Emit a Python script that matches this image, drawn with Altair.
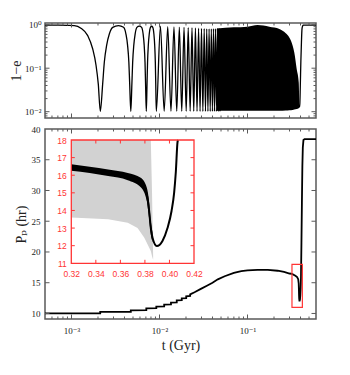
import altair as alt
import pandas as pd

# ---------------- data: top panel (1 - e) ----------------
early_t = [5e-4, 7e-4, 9e-4, 1.076e-3, 1.28e-3, 1.53e-3, 1.74e-3, 1.90e-3, 2.016e-3, 2.125e-3,
           2.26e-3, 2.36e-3, 2.51e-3, 2.69e-3, 2.94e-3, 3.42e-3, 3.905e-3, 4.155e-3, 4.335e-3, 4.485e-3,
           4.585e-3, 4.72e-3, 4.855e-3, 4.955e-3, 5.105e-3, 5.285e-3, 5.535e-3, 5.9e-3, 6.265e-3, 6.515e-3,
           6.695e-3, 6.845e-3, 6.945e-3, 7.08e-3, 7.215e-3, 7.315e-3, 7.465e-3, 7.645e-3, 7.895e-3, 8.14e-3,
           8.385e-3, 8.635e-3, 8.815e-3, 8.965e-3, 9.065e-3, 9.2e-3]
early_v = [0.98, 0.975, 0.965, 0.95, 0.83, 0.56, 0.28, 0.117, 0.043, 0.0102,
           0.043, 0.137, 0.34, 0.61, 0.87, 0.95, 0.87, 0.61, 0.34, 0.137,
           0.043, 0.0102, 0.043, 0.137, 0.34, 0.61, 0.87, 0.93, 0.87, 0.61,
           0.34, 0.137, 0.043, 0.0102, 0.043, 0.137, 0.34, 0.61, 0.87, 0.92,
           0.87, 0.61, 0.34, 0.137, 0.043, 0.0102]
peak_t = [0.01025, 0.0124, 0.0146, 0.0168, 0.019, 0.0212, 0.0234, 0.0256, 0.0278, 0.03,
          0.0322, 0.0344, 0.0366, 0.0388, 0.041, 0.0432, 0.0454, 0.0476]
peak_v = [0.92, 0.9, 0.89, 0.88, 0.87, 0.86, 0.85, 0.84, 0.83, 0.82,
          0.81, 0.8, 0.8, 0.8, 0.81, 0.81, 0.82, 0.82]
dip_t = [0.0113, 0.0135, 0.0157, 0.0179, 0.0201, 0.0223, 0.0245, 0.0267, 0.0289, 0.0311,
         0.0333, 0.0355, 0.0377, 0.0399, 0.0421, 0.0443, 0.0465, 0.0487]
dip_v = 0.0102
env_t = [0.045, 0.07, 0.1, 0.13, 0.177, 0.23, 0.272, 0.2985, 0.326, 0.34, 0.362, 0.382, 0.388]
env_hi = [0.82, 0.87, 0.9, 0.98, 0.9, 0.8, 0.64, 0.51, 0.33, 0.23, 0.096, 0.047, 0.0126]
env_lo = [0.0105, 0.0105, 0.0105, 0.0105, 0.0105, 0.0105, 0.0106, 0.0108, 0.011, 0.0112, 0.0116, 0.012, 0.0126]
late_t = [0.388, 0.393, 0.398, 0.404, 0.41, 0.416, 0.423, 0.432, 0.45, 0.6]
late_v = [0.0126, 0.015, 0.04, 0.15, 0.4, 0.8, 0.93, 0.975, 0.98, 0.98]

# ---------------- data: bottom panel (P_p) ----------------
pp_t = [5e-4, 2.12e-3, 2.12e-3, 4.72e-3, 4.72e-3, 7.08e-3, 7.08e-3, 9.2e-3, 9.2e-3, 11.3e-3,
        11.3e-3, 13.5e-3, 13.5e-3, 15.7e-3, 15.7e-3, 17.9e-3, 17.9e-3, 20.1e-3, 20.1e-3, 22.3e-3,
        22.3e-3, 0.025, 0.0295, 0.035, 0.04, 0.046, 0.055, 0.07, 0.085, 0.1,
        0.13, 0.17, 0.22, 0.26, 0.3, 0.32, 0.35, 0.366, 0.3766, 0.3815,
        0.3834, 0.3848, 0.3862, 0.3897, 0.3943, 0.3984, 0.4017, 0.4038, 0.4052, 0.4066,
        0.407, 0.41, 0.415, 0.42, 0.425, 0.432, 0.445, 0.6]
pp_v = [10.0, 10.0, 10.25, 10.27, 10.52, 10.55, 10.82, 10.85, 11.12, 11.15,
        11.45, 11.48, 11.78, 11.82, 12.12, 12.16, 12.46, 12.5, 12.8, 12.85,
        13.1, 13.45, 14.0, 14.55, 15.0, 15.55, 16.05, 16.6, 16.9, 17.0,
        17.1, 17.1, 16.95, 16.75, 16.5, 16.43, 16.13, 15.92, 15.58, 14.9,
        14.0, 13.0, 12.45, 11.98, 12.27, 13.0, 13.97, 15.0, 16.2, 17.9,
        18.0, 21.5, 28.0, 34.0, 37.0, 38.2, 38.35, 38.35]
band_t = [0.32, 0.335, 0.35, 0.366, 0.3766, 0.3815, 0.3834, 0.3848, 0.3862]
band_lo = [16.25, 16.12, 15.95, 15.72, 15.32, 14.55, 13.55, 12.65, 12.2]
band_hi = [16.62, 16.48, 16.33, 16.13, 15.85, 15.3, 14.5, 13.4, 12.75]
gray_t = [0.32, 0.35, 0.366, 0.374, 0.3795, 0.3848, 0.3858, 0.3867]
gray_lo = [13.6, 13.5, 13.3, 13.0, 12.45, 11.7, 11.4, 11.2]
gray_hi = [18, 18, 18, 18, 18, 18, 15, 11.4]
zoom_box_t = [0.32, 0.42]
zoom_box_p = [11, 18]

# ---------------- tick positions ----------------
x_major = [0.001, 0.01, 0.1]
x_minor = [6e-4, 7e-4, 8e-4, 9e-4, 2e-3, 3e-3, 4e-3, 5e-3, 6e-3, 7e-3, 8e-3, 9e-3,
           0.02, 0.03, 0.04, 0.05, 0.06, 0.07, 0.08, 0.09, 0.2, 0.3, 0.4, 0.5]
top_y_major = [0.01, 0.1, 1.0]
top_y_minor = [0.008, 0.009, 0.02, 0.03, 0.04, 0.05, 0.06, 0.07, 0.08, 0.09,
               0.2, 0.3, 0.4, 0.5, 0.6, 0.7, 0.8, 0.9]
pp_y_major = [10, 15, 20, 25, 30, 35]
inset_x_ticks = [0.34, 0.36, 0.38, 0.40]
inset_x_labels = [0.32, 0.34, 0.36, 0.38, 0.40, 0.42]
inset_y_ticks = [12, 13, 14, 15, 16, 17]
inset_y_labels = [11, 12, 13, 14, 15, 16, 17, 18]

# ---------------- scales / styles ----------------
XDOM = [5e-4, 0.6]
TOPY = [0.00716, 1.094]
PPY = [9.1, 40]
W, H1, H2 = 271, 95, 190
SERIF = "Liberation Serif, DejaVu Serif"
SANS = "Liberation Sans, DejaVu Sans"
FRAME = "#5a5a5a"
RED = "#ff3434"

xs = alt.Scale(type="log", domain=XDOM, nice=False)
ys_top = alt.Scale(type="log", domain=TOPY, nice=False)
ys_pp = alt.Scale(domain=PPY, nice=False, zero=False)
xs_in = alt.Scale(domain=[0.32, 0.42], range=[26.3, 149], nice=False, zero=False)
ys_in = alt.Scale(domain=[11, 18], range=[134.3, 11], nice=False, zero=False)

top_y_axis = alt.Axis(values=top_y_major, ticks=False, domain=False, grid=False,
                      labelExpr="datum.value >= 0.5 ? '10⁰' : datum.value >= 0.05 ? '10⁻¹' : '10⁻²'",
                      labelFontSize=9, labelPadding=4, title="1−e", titleFontSize=14,
                      titlePadding=1)


def ticks_df(xmaj, xmin, ymaj, ymin, xdom, ydom, lmaj, lmin):
    rows = []
    for vals, L in ((xmaj, lmaj), (xmin, lmin)):
        for v in vals:
            rows.append({"x": v, "y": ydom[0], "p": "M0,0L0,-1", "s": (2 * L) ** 2})
            rows.append({"x": v, "y": ydom[1], "p": "M0,0L0,1", "s": (2 * L) ** 2})
    for vals, L in ((ymaj, lmaj), (ymin, lmin)):
        for v in vals:
            rows.append({"x": xdom[0], "y": v, "p": "M0,0L1,0", "s": (2 * L) ** 2})
            rows.append({"x": xdom[1], "y": v, "p": "M0,0L-1,0", "s": (2 * L) ** 2})
    return pd.DataFrame(rows)


def tick_layer(df, sx, sy, color, yaxis=None):
    return alt.Chart(df).mark_point(filled=False, color=color, strokeWidth=1, opacity=1).encode(
        x=alt.X("x:Q", scale=sx, axis=None),
        y=alt.Y("y:Q", scale=sy, axis=yaxis),
        shape=alt.Shape("p:N", scale=None),
        size=alt.Size("s:Q", scale=None),
    )


# ---------------- top panel ----------------
rows = [{"t": t, "v": v, "seg": "a"} for t, v in zip(early_t, early_v)]
for pt, pv, dt in zip(peak_t, peak_v, dip_t):
    rows.append({"t": pt, "v": pv, "seg": "a"})
    rows.append({"t": dt, "v": dip_v, "seg": "a"})
rows += [{"t": t, "v": v, "seg": "b"} for t, v in zip(late_t, late_v)]
top_df = pd.DataFrame(rows)
env_df = pd.DataFrame({"t": env_t, "hi": env_hi, "lo": env_lo})

top_area = alt.Chart(env_df).mark_area(color="black", interpolate="monotone").encode(
    x=alt.X("t:Q", scale=xs, axis=None),
    y=alt.Y("hi:Q", scale=ys_top, axis=top_y_axis),
    y2="lo:Q",
)
top_line = alt.Chart(top_df).mark_line(color="black", strokeWidth=1.3, interpolate="monotone").encode(
    x=alt.X("t:Q", scale=xs, axis=None),
    y=alt.Y("v:Q", scale=ys_top, axis=top_y_axis),
    detail="seg:N",
)
top_ticks = tick_layer(ticks_df(x_major, x_minor, top_y_major, top_y_minor, XDOM, TOPY, 4.5, 2.5),
                       xs, ys_top, FRAME, yaxis=top_y_axis)
top = alt.layer(top_area, top_line, top_ticks).properties(width=W, height=H1)

# ---------------- bottom panel ----------------
pp_df = pd.DataFrame({"t": pp_t, "p": pp_v, "i": list(range(len(pp_t)))})
band_df = pd.DataFrame({"t": band_t, "lo": band_lo, "hi": band_hi})
gray_df = pd.DataFrame({"t": gray_t, "lo": gray_lo, "hi": gray_hi})
box_df = pd.DataFrame({"t": [zoom_box_t[0]], "t2": [zoom_box_t[1]], "p": [zoom_box_p[0]], "p2": [zoom_box_p[1]]})

pp_line = alt.Chart(pp_df).mark_line(color="black", strokeWidth=1.8).encode(
    x=alt.X("t:Q", scale=xs,
            axis=alt.Axis(values=x_major, ticks=False, domain=False, grid=False, orient="bottom",
                          labelExpr="datum.value >= 0.05 ? '10⁻¹' : datum.value >= 0.005 ? '10⁻²' : '10⁻³'",
                          labelFontSize=9, labelPadding=7, title="t (Gyr)", titleFontSize=14,
                          titlePadding=3)),
    y=alt.Y("p:Q", scale=ys_pp,
            axis=alt.Axis(values=pp_y_major + [40], ticks=False, domain=False, grid=False, orient="left",
                          labelFontSize=9, labelPadding=5, title="Pₚ (hr)", titleFontSize=14,
                          titlePadding=3)),
    order="i:Q",
)
zoom_box = alt.Chart(box_df).mark_rect(fill=None, stroke=RED, strokeWidth=1.2).encode(
    x=alt.X("t:Q", scale=xs, axis=None), x2="t2:Q",
    y=alt.Y("p:Q", scale=ys_pp, axis=None), y2="p2:Q",
)
pp_ticks = tick_layer(ticks_df(x_major, x_minor, pp_y_major, [], XDOM, PPY, 4.5, 2.5), xs, ys_pp, FRAME)

in_gray = alt.Chart(gray_df).mark_area(color="#d2d2d2").encode(
    x=alt.X("t:Q", scale=xs_in, axis=None),
    y=alt.Y("hi:Q", scale=ys_in, axis=None), y2="lo:Q",
)
in_band = alt.Chart(band_df).mark_area(color="black", interpolate="monotone").encode(
    x=alt.X("t:Q", scale=xs_in, axis=None),
    y=alt.Y("hi:Q", scale=ys_in, axis=None), y2="lo:Q",
)
in_line = alt.Chart(pp_df).transform_filter(
    (alt.datum.t >= 0.32) & (alt.datum.t <= 0.407)
).mark_line(color="black", strokeWidth=2, interpolate="monotone").encode(
    x=alt.X("t:Q", scale=xs_in, axis=None),
    y=alt.Y("p:Q", scale=ys_in, axis=None),
    order="i:Q",
)
in_frame = alt.Chart(box_df).mark_rect(fill=None, stroke=RED, strokeWidth=1.3).encode(
    x=alt.X("t:Q", scale=xs_in,
            axis=alt.Axis(values=inset_x_labels, format=".2f", orient="bottom", offset=-55.7,
                          ticks=False, domain=False, grid=False, labelColor=RED, labelOverlap=False,
                          labelFlush=False, labelFont=SANS, labelFontSize=8.5, labelPadding=6,
                          title=None)),
    x2="t2:Q",
    y=alt.Y("p:Q", scale=ys_in,
            axis=alt.Axis(values=inset_y_labels, orient="left", offset=-26.3, labelOverlap=False,
                          labelFlush=False, ticks=False, domain=False, grid=False, labelColor=RED,
                          labelFont=SANS, labelFontSize=8.5, labelPadding=5, title=None)),
    y2="p2:Q",
)
in_ticks = tick_layer(ticks_df(inset_x_ticks, [], inset_y_ticks, [], [0.32, 0.42], [11, 18], 3.5, 2),
                      xs_in, ys_in, RED)

bottom = alt.layer(
    pp_line, zoom_box, pp_ticks, in_gray, in_band, in_line, in_frame, in_ticks
).resolve_scale(x="independent", y="independent").properties(width=W, height=H2)

chart = alt.vconcat(top, bottom, spacing=3).properties(
    padding={"left": 0, "top": 11, "right": 5, "bottom": 5}
).configure_view(
    stroke=FRAME, strokeWidth=1.5
).configure_axis(
    labelFont=SERIF, titleFont=SERIF, labelColor="#222222", titleColor="#222222",
    titleFontWeight="normal"
)

chart.save("out.html", embed_options={"renderer": "svg", "actions": False})
